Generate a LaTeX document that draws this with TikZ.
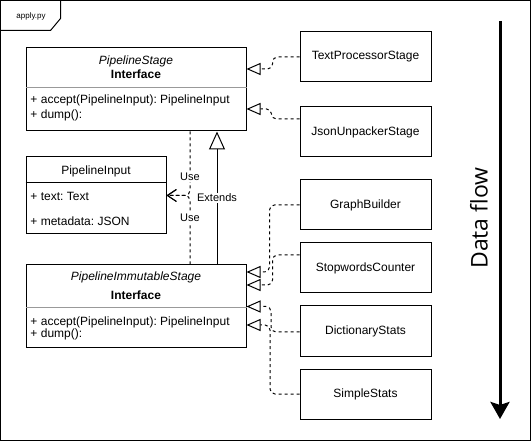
\documentclass[tikz,border=0pt]{standalone}
\usepackage{fontspec}
\setmainfont{Liberation Sans}
\newfontfamily\flowfont{Open Sans}
\usetikzlibrary{arrows.meta}
\frenchspacing

\begin{document}
\begin{tikzpicture}[x=1pt, y=-1pt, line width=1pt,
        font=\fontsize{12}{14}\selectfont,
        box/.style={draw, minimum width=131pt, minimum height=50pt, inner sep=0pt},
        umlbox/.style={draw, minimum width=220pt, inner sep=0pt},
        member/.style={anchor=west, inner sep=0pt},
        iname/.style={font=\fontsize{12}{14}\selectfont\itshape},
        kind/.style={font=\fontsize{12}{14}\selectfont\bfseries},
        divider/.style={draw=black!40},
        realize/.style={dash pattern=on 3pt off 3pt, rounded corners=5pt,
            -{Triangle[open, length=14pt, width=12pt, fill=white]}},
        uses/.style={dash pattern=on 3pt off 3pt, rounded corners=5pt,
            -{Straight Barb[length=9pt, width=12pt]}},
        lbl/.style={fill=white, inner sep=1pt, font=\fontsize{11}{13}\selectfont}]

                \useasboundingbox (0,0) rectangle (531,441);
                \draw (0.5,0.5) rectangle (530.5,440.5);
                \draw (0.5,30.5) -- (50.5,30.5) -- (60.5,18.5) -- (60.5,0.5);
                \node[font=\fontsize{8}{10}\selectfont] (file) at (31,16) {apply.py};

                \node[umlbox, minimum height=83pt] (ps) at (136,89.5) {};
                \node[iname] (psname) at (136,61) {PipelineStage};
                \node[kind] (pskind) at (136,74) {Interface};
                \draw[divider] (ps.west |- 0,88) -- (ps.east |- 0,88);
                \node[member] (psaccept) at (30,100) {+ accept(PipelineInput): PipelineInput};
                \node[member] (psdump) at (30,115) {+ dump():};

                \node[umlbox, minimum width=140pt, minimum height=77pt] (pin) at (96,195.5) {};
                \node (pinname) at (96,171) {PipelineInput};
                \draw (pin.west |- 0,183) -- (pin.east |- 0,183);
                \node[member] (pintext) at (30,196) {+ text: Text};
                \node[member] (pinmeta) at (30,221) {+ metadata: JSON};

                \node[umlbox, minimum height=83pt] (pis) at (136,306.5) {};
                \node[iname] (pisname) at (136,277) {PipelineImmutableStage};
                \node[kind] (piskind) at (136,295) {Interface};
                \draw[divider] (pis.west |- 0,308) -- (pis.east |- 0,308);
                \node[member] (pisaccept) at (30,322) {+ accept(PipelineInput): PipelineInput};
                \node[member] (pisdump) at (30,334) {+ dump():};

                \node[box] (tps) at (365.5,57) {TextProcessorStage};
                \node[box] (jus) at (365.5,132) {JsonUnpackerStage};
                \node[box] (gb) at (365.5,205) {GraphBuilder};
                \node[box] (swc) at (365.5,268) {StopwordsCounter};
                \node[box] (ds) at (365.5,331) {DictionaryStats};
                \node[box] (ss) at (365.5,394) {SimpleStats};

                \draw[realize] (tps.west) -- ++(-27,0) |- ([yshift=20.5pt]ps.east);
                \draw[realize] ([yshift=13pt]jus.west) -- ++(-28,0) |- ([yshift=-19.5pt]ps.east);
                \draw[realize] (gb.west) -- ++(-30,0) |- ([yshift=34.5pt]pis.east);
                \draw[realize] ([yshift=13pt]swc.west) -- ++(-27,0) |- ([yshift=21.5pt]pis.east);
                \draw[realize] ([yshift=-1pt]ds.west) -- ++(-28.5,0) |- (pis.east);
                \draw[realize] (ss.west) -- ++(-29.5,0) |- ([yshift=-18.5pt]pis.east);

                \draw[uses] ([xshift=54pt]ps.south) |- (pin.east);
                \draw[uses] ([xshift=54pt]pis.north) |- (pin.east);
                \node[lbl] (use1) at (190,177) {Use};
                \node[lbl] (use2) at (190,218) {Use};

                \draw[-{Triangle[open, length=18pt, width=16pt, fill=white]}] ([xshift=81pt]pis.north) -- ([xshift=81pt]ps.south) node[lbl, pos=0.5] (ext) {Extends};

                \coordinate (flowtop) at (500,21);
                \coordinate (flowend) at (500,419);
                \draw[line width=3pt, -{Stealth[length=17pt, width=19pt, inset=3pt]}] (flowtop) -- (flowend);
                \node[rotate=90, font=\flowfont\fontsize{23}{27}\selectfont] (flow) at (479,218) {Data flow};
            \end{tikzpicture}
\end{document}
